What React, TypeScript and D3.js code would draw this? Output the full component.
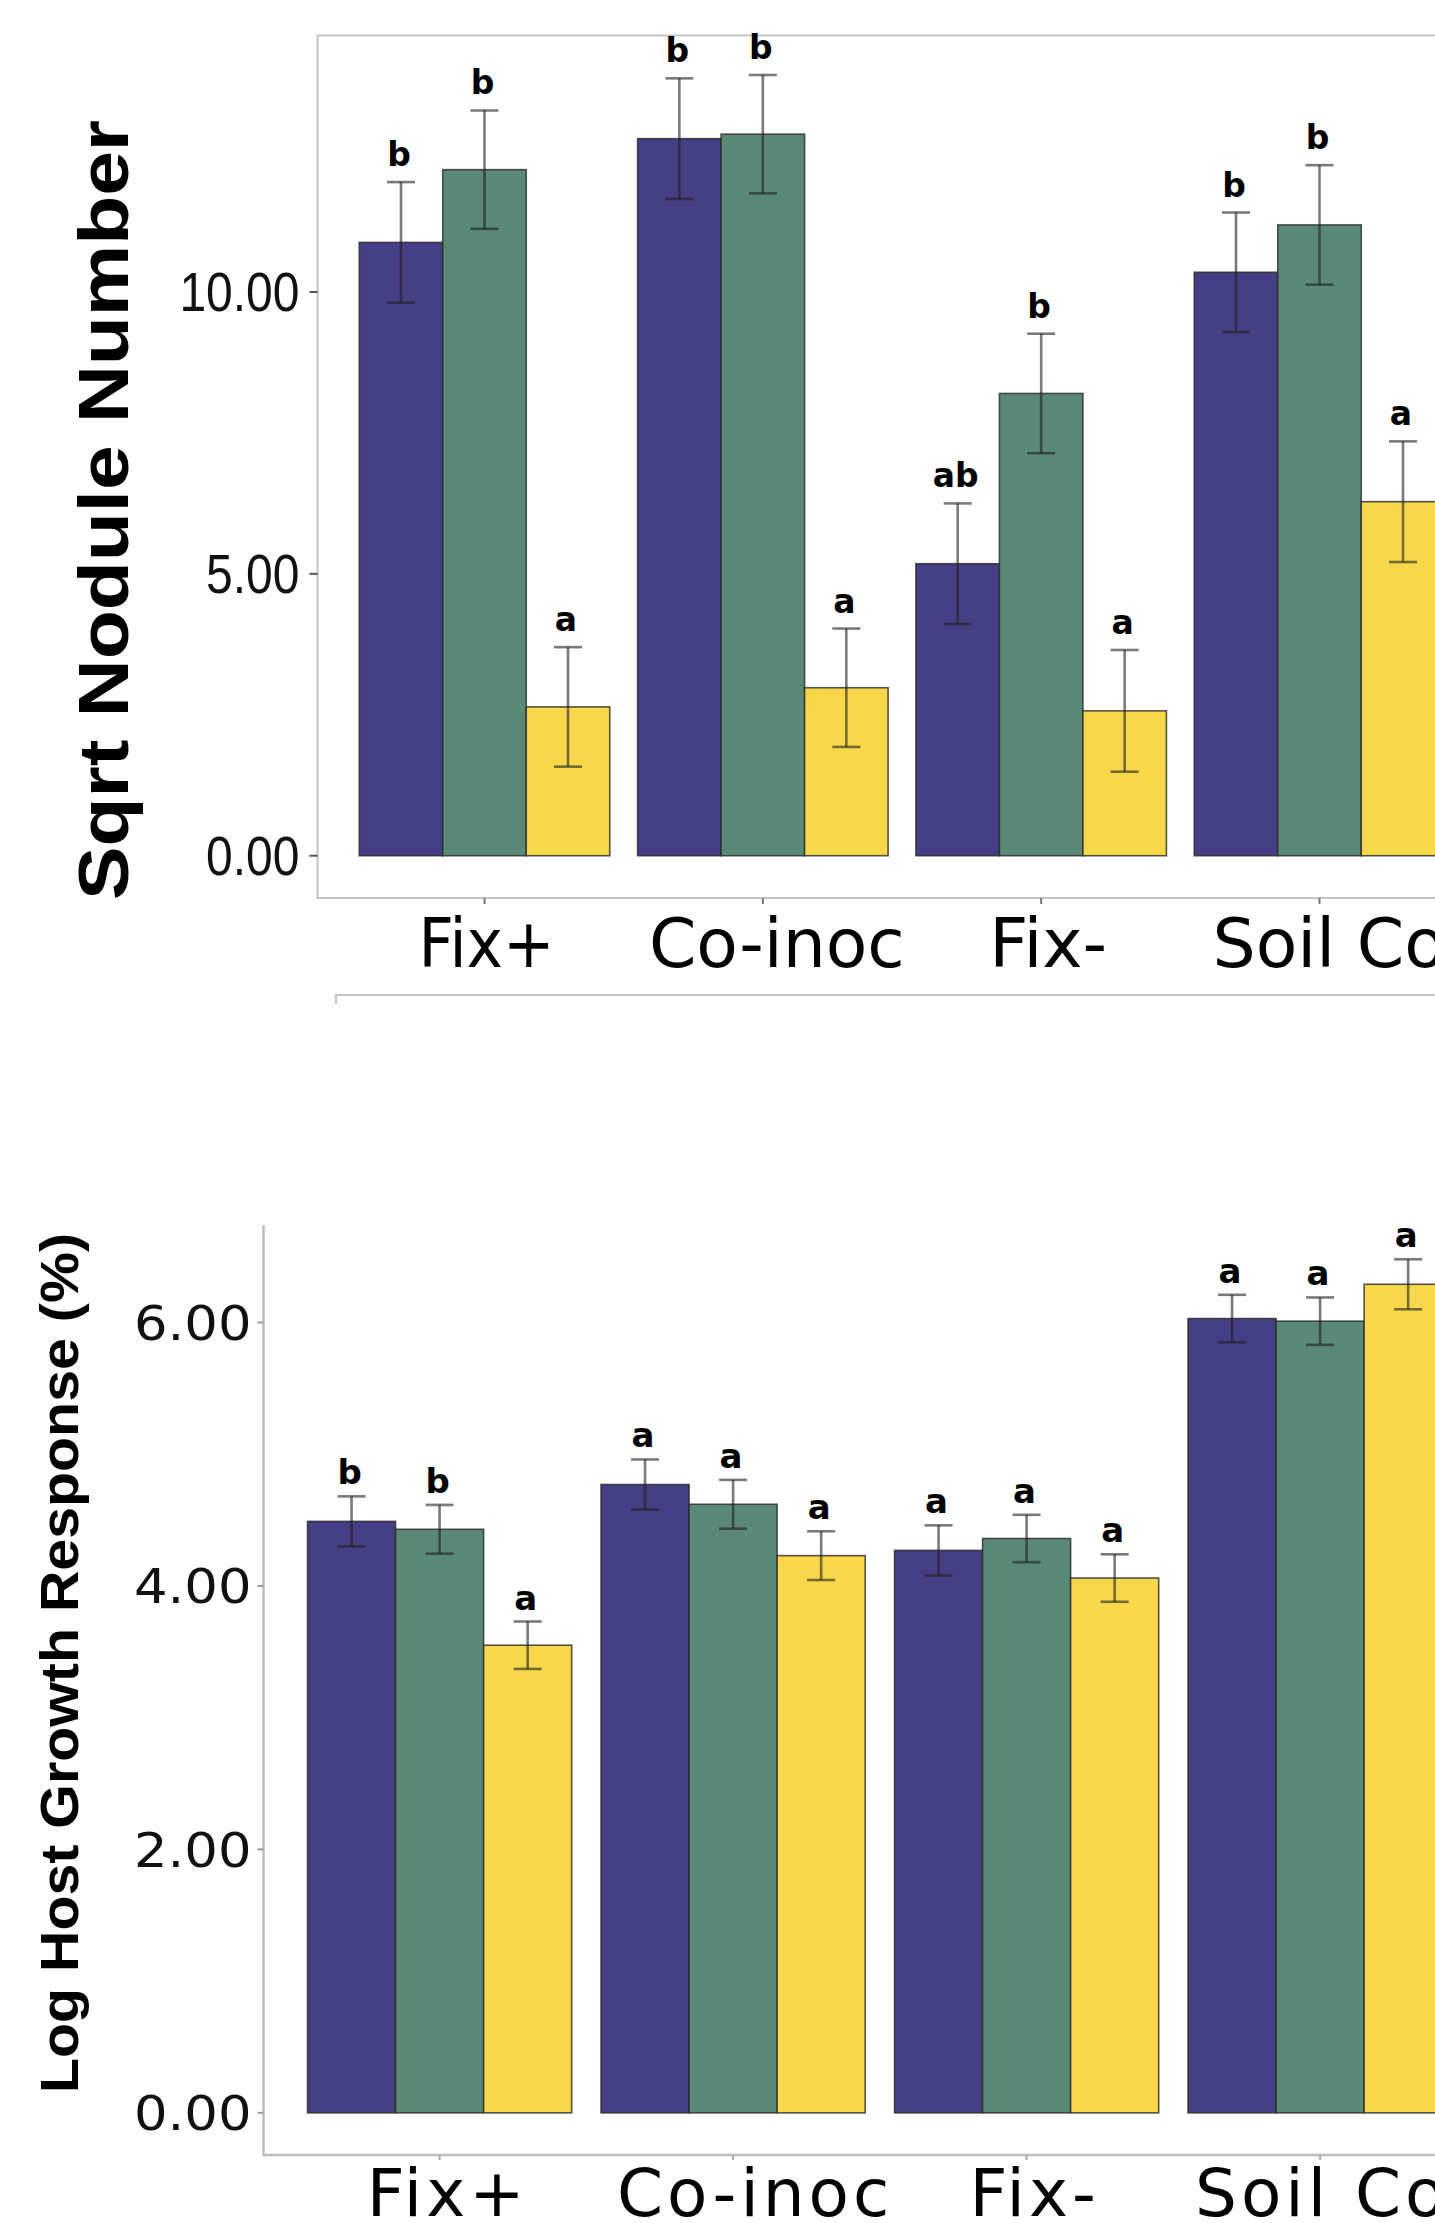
import React from "react";
import * as d3 from "d3";

// treatments on the x axis and the three host/strain groups
const categories = ["Fix+", "Co-inoc", "Fix-", "Soil Comm."];
const groups = ["G1", "G2", "G3"];
const colors = ["#453F85", "#5A8A76", "#F8D84A"];

// top panel: sqrt nodule number
const noduleMean = [
  [10.88, 12.17, 2.64],
  [12.72, 12.8, 2.98],
  [5.18, 8.2, 2.57],
  [10.35, 11.19, 6.28],
];
const noduleSE = [
  [1.07, 1.05, 1.06],
  [1.07, 1.05, 1.05],
  [1.07, 1.06, 1.08],
  [1.06, 1.06, 1.07],
];
const noduleLetters = [
  ["b", "b", "a"],
  ["b", "b", "a"],
  ["ab", "b", "a"],
  ["b", "b", "a"],
];
const noduleTicks = [0, 5, 10];

// bottom panel: log host growth response
const growthMean = [
  [4.49, 4.43, 3.55],
  [4.77, 4.62, 4.23],
  [4.27, 4.36, 4.06],
  [6.03, 6.01, 6.29],
];
const growthSE = [
  [0.19, 0.185, 0.18],
  [0.19, 0.185, 0.185],
  [0.19, 0.18, 0.18],
  [0.18, 0.18, 0.19],
];
const growthLetters = [
  ["b", "b", "a"],
  ["a", "a", "a"],
  ["a", "a", "a"],
  ["a", "a", "a"],
];
const growthTicks = [0, 2, 4, 6];

const W = 1435;
const H = 2223;
const sans = "'Liberation Sans', Arial, sans-serif";
const dejavu = "'DejaVu Sans', Verdana, sans-serif";

function Bars({ x, y, means, ses, letters, letterSize, letterGap }) {
  const inner = d3.scaleBand().domain(groups).range([0, x.bandwidth()]);
  return (
    <g>
      {categories.map((cat, i) =>
        groups.map((g, j) => {
          const x0 = x(cat) + inner(g);
          const cx = x0 + inner.bandwidth() / 2;
          const m = means[i][j];
          const se = ses[i][j];
          const top = y(m + se);
          const bot = y(m - se);
          return (
            <g key={cat + g}>
              <rect
                x={x0}
                y={y(m)}
                width={inner.bandwidth()}
                height={y(0) - y(m)}
                fill={colors[j]}
                stroke="#2b2b2b"
                strokeOpacity={0.8}
                strokeWidth={1.6}
              />
              <g stroke="#222" strokeOpacity={0.6} strokeWidth={2.6}>
                <line x1={cx} x2={cx} y1={top} y2={bot} />
                <line x1={cx - 14} x2={cx + 14} y1={top} y2={top} />
                <line x1={cx - 14} x2={cx + 14} y1={bot} y2={bot} />
              </g>
              <text
                x={cx - 2}
                y={top - letterGap}
                textAnchor="middle"
                fontFamily={dejavu}
                fontWeight="bold"
                fontSize={letterSize}
                fill="#000"
              >
                {letters[i][j]}
              </text>
            </g>
          );
        })
      )}
    </g>
  );
}

function NodulePanel() {
  const left = 317.5;
  const x = d3
    .scaleBand()
    .domain(categories)
    .range([left, 1486.5])
    .paddingInner(0.1)
    .paddingOuter(0.15);
  const y = d3.scaleLinear().domain([-0.75, 14.55]).range([898, 35.5]);
  const fmt = d3.format(".2f");
  return (
    <g>
      <rect
        x={left}
        y={y(14.55)}
        width={1486.5 - left}
        height={y(-0.75) - y(14.55)}
        fill="none"
        stroke="#c4c4c4"
        strokeWidth={2}
      />
      <Bars
        x={x}
        y={y}
        means={noduleMean}
        ses={noduleSE}
        letters={noduleLetters}
        letterSize={33}
        letterGap={16}
      />
      {noduleTicks.map((t) => (
        <g key={t}>
          <line x1={left - 8} x2={left} y1={y(t)} y2={y(t)} stroke="#555" strokeWidth={2} />
          <text
            transform={`translate(${left - 18},${y(t) + 19.5}) scale(1,1.15)`}
            textAnchor="end"
            fontFamily={sans}
            fontSize={48}
            fill="#111"
          >
            {fmt(t)}
          </text>
        </g>
      ))}
      {categories.map((c, i) => {
        const cx = x(c) + x.bandwidth() / 2;
        const last = i === categories.length - 1;
        const nudge = c === "Co-inoc" ? 14 : c === "Fix+" ? 2 : 7;
        return (
          <g key={c}>
            <line x1={cx} x2={cx} y1={898} y2={904} stroke="#777" strokeWidth={2} />
            <text
              x={last ? cx - 107 : cx + nudge}
              y={967}
              textAnchor={last ? "start" : "middle"}
              fontFamily={dejavu}
              fontSize={68}
              textLength={c === "Fix+" ? 136 : undefined}
              lengthAdjust="spacingAndGlyphs"
              fill="#000"
            >
              {c}
            </text>
          </g>
        );
      })}
      <path d={`M336,1004V995H${W}`} fill="none" stroke="#c4c4c4" strokeWidth={2} />
      <text
        transform="translate(128,510) rotate(-90)"
        textAnchor="middle"
        fontFamily={sans}
        fontWeight="bold"
        fontSize={70}
        textLength={780}
        lengthAdjust="spacingAndGlyphs"
        fill="#000"
      >
        Sqrt Nodule Number
      </text>
    </g>
  );
}

function GrowthPanel() {
  const left = 263.5;
  const x = d3
    .scaleBand()
    .domain(categories)
    .range([left, 1496.2])
    .paddingInner(0.1)
    .paddingOuter(0.15);
  const y = d3.scaleLinear().domain([-0.32, 6.74]).range([2155, 1225]);
  const fmt = d3.format(".2f");
  return (
    <g>
      <path
        d={`M${left},${y(6.74)}V${y(-0.32)}H${W}`}
        fill="none"
        stroke="#bdbdbd"
        strokeWidth={2.5}
      />
      <Bars
        x={x}
        y={y}
        means={growthMean}
        ses={growthSE}
        letters={growthLetters}
        letterSize={34}
        letterGap={12}
      />
      {growthTicks.map((t) => (
        <g key={t}>
          <line x1={left - 6} x2={left} y1={y(t)} y2={y(t)} stroke="#999" strokeWidth={2} />
          <text
            transform={`translate(${left - 12},${y(t) + 17.5}) scale(1.1,1)`}
            textAnchor="end"
            fontFamily={dejavu}
            fontSize={48}
            fill="#111"
          >
            {fmt(t)}
          </text>
        </g>
      ))}
      {categories.map((c, i) => {
        const cx = x(c) + x.bandwidth() / 2;
        const last = i === categories.length - 1;
        const nudge = c === "Co-inoc" ? 22 : 8;
        return (
          <g key={c}>
            <line x1={cx} x2={cx} y1={2155} y2={2160} stroke="#aaa" strokeWidth={2} />
            <text
              x={last ? cx - 125 : cx + nudge}
              y={2216}
              textAnchor={last ? "start" : "middle"}
              fontFamily={dejavu}
              fontSize={66}
              letterSpacing={4}
              fill="#000"
            >
              {c}
            </text>
          </g>
        );
      })}
      <text
        transform="translate(78,1663) rotate(-90)"
        textAnchor="middle"
        fontFamily={sans}
        fontWeight="bold"
        fontSize={53}
        textLength={860}
        lengthAdjust="spacingAndGlyphs"
        fill="#000"
      >
        Log Host Growth Response (%)
      </text>
    </g>
  );
}

export default function App() {
  return (
    <svg
      width={W}
      height={H}
      style={{ position: "absolute", left: 0, top: 0, background: "#fff" }}
    >
      <rect width={W} height={H} fill="#fff" />
      <NodulePanel />
      <GrowthPanel />
    </svg>
  );
}
